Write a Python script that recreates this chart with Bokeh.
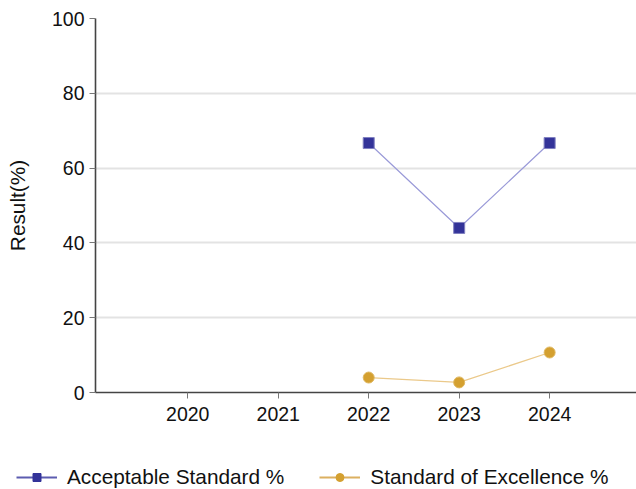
import math
from bokeh.plotting import figure
from bokeh.models import Range1d, FixedTicker, Legend, LegendItem
from bokeh.embed import file_html
from bokeh.resources import INLINE

years = [2020, 2021, 2022, 2023, 2024]
year_labels = ["2020", "2021", "2022", "2023", "2024"]
acceptable = [math.nan, math.nan, 66.7, 44.0, 66.7]
excellence = [math.nan, math.nan, 4.0, 2.7, 10.7]
y_ticks = [0, 20, 40, 60, 80, 100]
series_names = ["Acceptable Standard %", "Standard of Excellence %"]

FONT = "Liberation Sans"
ACC = "#333399"
ACC_LINE = "#9a9ad8"
EXC = "#d4a030"
EXC_LINE = "#ebc98a"

p = figure(width=636, height=435, output_backend="svg", toolbar_location=None,
           x_range=Range1d(2018.98, 2024.96), y_range=Range1d(0, 100),
           min_border_left=95, min_border_right=0, min_border_top=18, min_border_bottom=43)
p.outline_line_color = None
p.background_fill_color = "white"

p.xgrid.grid_line_color = None
p.ygrid.grid_line_color = "#e3e3e3"
p.ygrid.grid_line_width = 2
p.ygrid.ticker = FixedTicker(ticks=y_ticks)

p.xaxis.ticker = FixedTicker(ticks=years)
p.xaxis.major_label_overrides = {y: l for y, l in zip(years, year_labels)}
p.yaxis.ticker = FixedTicker(ticks=y_ticks)
for ax in (p.xaxis[0], p.yaxis[0]):
    ax.axis_line_color = "#444444"
    ax.axis_line_width = 1.6
    ax.major_tick_line_color = "#777777"
    ax.major_tick_in = 0
    ax.major_tick_out = 6
    ax.minor_tick_line_color = None
    ax.major_label_text_font = FONT
    ax.major_label_text_font_size = "19.5px"
    ax.major_label_text_color = "#111111"
p.xaxis.major_label_standoff = 8
p.yaxis.major_label_standoff = 5
p.yaxis.axis_label = "Result(%)"
p.yaxis.axis_label_text_font = FONT
p.yaxis.axis_label_text_font_size = "20.8px"
p.yaxis.axis_label_text_font_style = "normal"
p.yaxis.axis_label_text_color = "#111111"
p.yaxis.axis_label_standoff = 20

p.line(years, acceptable, line_color=ACC_LINE, line_width=1.2)
p.scatter(years, acceptable, marker="square", size=11, fill_color=ACC,
          line_color="#8080c0", line_width=1)
p.line(years, excellence, line_color=EXC_LINE, line_width=1.2)
p.scatter(years, excellence, marker="circle", size=11, fill_color=EXC,
          line_color="#e0b860", line_width=1)

# legend strip (same styling, legend-only glyphs)
lf = figure(width=636, height=54, output_backend="svg", toolbar_location=None,
            x_range=Range1d(0, 1), y_range=Range1d(0, 1),
            min_border_left=0, min_border_right=0, min_border_top=0, min_border_bottom=0)
lf.axis.visible = False
lf.grid.visible = False
lf.outline_line_color = None
nan2 = [math.nan, math.nan]
gl1 = lf.line(nan2, nan2, line_color="#5c5cb0", line_width=2)
gs1 = lf.scatter(nan2, nan2, marker="square", size=9, fill_color=ACC, line_color=ACC)
gl2 = lf.line(nan2, nan2, line_color="#dcb060", line_width=2)
gs2 = lf.scatter(nan2, nan2, marker="circle", size=9, fill_color=EXC, line_color=EXC)

legend = Legend(items=[LegendItem(label=series_names[0], renderers=[gl1, gs1]),
                       LegendItem(label=series_names[1], renderers=[gl2, gs2])],
                orientation="horizontal", location=(16, 0))
legend.border_line_color = None
legend.background_fill_alpha = 0
legend.label_text_font = FONT
legend.label_text_font_size = "20.8px"
legend.label_text_color = "#111111"
legend.glyph_width = 41
legend.label_standoff = 10
legend.spacing = 35
legend.margin = 0
legend.padding = 0
lf.add_layout(legend, "center")

open("out.html", "w").write(file_html([p, lf], INLINE))
